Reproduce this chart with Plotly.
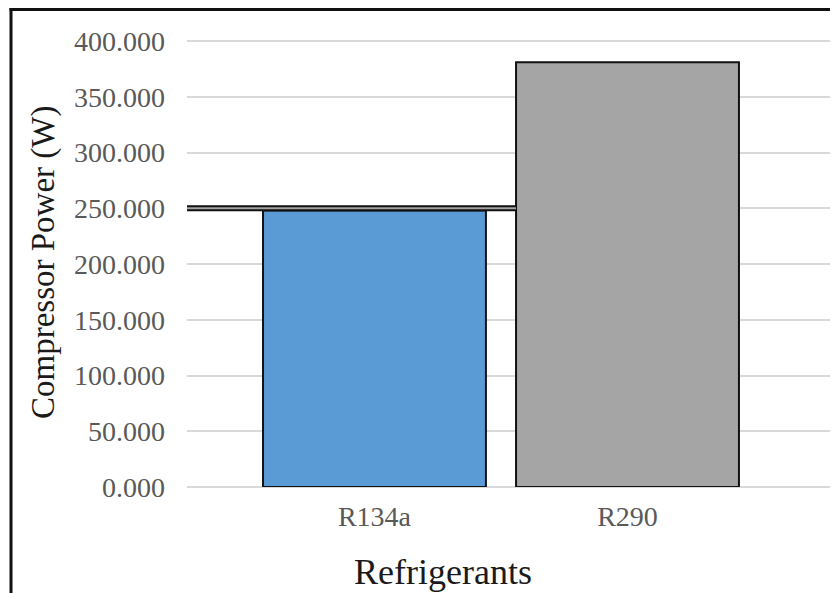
import plotly.graph_objects as go

# ---- data ----
categories = ["R134a", "R290"]
compressor_power = [248, 381]
bar_colors = ["#5b9bd5", "#a5a5a5"]
ref_level = 250
y_ticks = [0, 50, 100, 150, 200, 250, 300, 350, 400]
y_tick_labels = [f"{v:.3f}" for v in y_ticks]

# ---- layout constants (figure sits 8px inside the page because of body margin) ----
W, H = 830, 585
L, T, B = 179, 32, 106
PW, PH = W - L, H - T - B
bar_width = 0.881
x_range = [-0.741, 1.832]
y_range = [0, 401]
x_pos = list(range(len(categories)))
SERIF = "Liberation Serif, Times New Roman, serif"


def px_x(x):
    return (x - L) / PW


def px_y(y):
    return (H - B - y) / PH


fig = go.Figure()
fig.add_trace(go.Bar(
    x=x_pos, y=compressor_power, width=bar_width,
    marker=dict(color=bar_colors, line=dict(color="#111111", width=2)),
    showlegend=False, hoverinfo="y",
))
# double line at the reference level, from the axis to the R290 bar
line_x = [x_range[0], x_pos[1] - bar_width / 2]
fig.add_trace(go.Scatter(x=line_x, y=[ref_level, ref_level], mode="lines",
                         line=dict(color="#111111", width=6), showlegend=False, hoverinfo="skip"))
fig.add_trace(go.Scatter(x=line_x, y=[ref_level, ref_level], mode="lines",
                         line=dict(color="#a5a5a5", width=2), showlegend=False, hoverinfo="skip"))

fig.update_layout(
    width=W, height=H,
    margin=dict(l=L, r=0, t=T, b=B, pad=0),
    paper_bgcolor="white", plot_bgcolor="white",
    font=dict(family=SERIF),
    xaxis=dict(range=x_range, tickvals=x_pos, ticktext=categories,
               showgrid=False, zeroline=False, showline=False, ticks="",
               tickfont=dict(size=28, color="#595959", family=SERIF),
               ticklabelstandoff=10),
    yaxis=dict(range=y_range, tickvals=y_ticks, ticktext=y_tick_labels,
               showgrid=True, gridcolor="#d9d9d9", gridwidth=2,
               zeroline=True, zerolinecolor="#d9d9d9", zerolinewidth=2,
               showline=False, ticks="",
               tickfont=dict(size=28, color="#595959", family=SERIF),
               ticklabelstandoff=21),
    annotations=[
        dict(text="Refrigerants", xref="paper", yref="paper",
             x=px_x(435), y=px_y(564),
             xanchor="center", yanchor="middle", showarrow=False,
             font=dict(size=36, color="#1a1a1a", family=SERIF)),
        dict(text="Compressor Power (W)", xref="paper", yref="paper",
             x=px_x(35), y=px_y(255), textangle=-90,
             xanchor="center", yanchor="middle", showarrow=False,
             font=dict(size=33, color="#1a1a1a", family=SERIF)),
    ],
    shapes=[
        dict(type="line", xref="paper", yref="paper",
             x0=px_x(1.5), x1=px_x(W), y0=px_y(1.5), y1=px_y(1.5),
             line=dict(color="#111111", width=3)),
        dict(type="line", xref="paper", yref="paper",
             x0=px_x(3), x1=px_x(3), y0=px_y(0), y1=px_y(H),
             line=dict(color="#111111", width=3)),
    ],
)

fig.write_html("out.html")
